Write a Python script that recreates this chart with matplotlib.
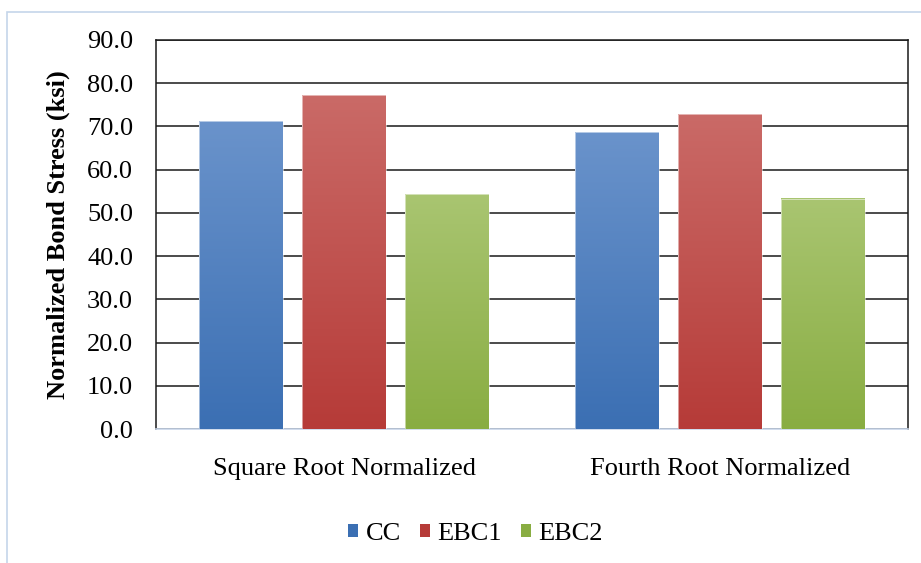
import numpy as np
import matplotlib
matplotlib.use("Agg")
import matplotlib.pyplot as plt
from matplotlib.colors import LinearSegmentedColormap
from matplotlib.patches import Rectangle, Patch

categories = ["Square Root Normalized", "Fourth Root Normalized"]
series_names = ["CC", "EBC1", "EBC2"]
cc = [71.2, 68.7]
ebc1 = [77.2, 72.8]
ebc2 = [54.3, 53.3]
y_ticks = [0, 10, 20, 30, 40, 50, 60, 70, 80, 90]

# (top colour, bottom colour) for the vertical gradient of each series
gradients = [("#6a93cb", "#3b6fb3"), ("#ca6a67", "#b63b38"), ("#a9c571", "#89ad42")]

plt.rcParams["font.family"] = ["Liberation Serif", "DejaVu Serif"]

fig = plt.figure(figsize=(9.21, 5.63), dpi=100)
ax = fig.add_axes([0.1694, 0.238, 0.8165, 0.691])

# light frame around the whole chart
fig.patches.append(Rectangle((7 / 921, -0.05), 1.2, 1 - 12 / 563 + 0.05,
                             transform=fig.transFigure, fill=False,
                             edgecolor="#c5d5ea", linewidth=1.2, zorder=0))

x = np.arange(len(categories))
width = 0.223
offsets = [-0.275, 0.0, 0.275]
grad = np.linspace(0, 1, 256).reshape(-1, 1)

for values, off, (top, bottom), name in zip([cc, ebc1, ebc2], offsets, gradients, series_names):
    bars = ax.bar(x + off, values, width, color="none", edgecolor="none", zorder=3, label=name)
    cmap = LinearSegmentedColormap.from_list(name, [top, bottom])
    for b in bars:
        x0, w, h = b.get_x(), b.get_width(), b.get_height()
        ax.imshow(grad, cmap=cmap, aspect="auto", extent=[x0, x0 + w, 0, h],
                  origin="upper", zorder=3, interpolation="bilinear")
        ax.add_patch(Rectangle((x0, 0), w, h, fill=False, edgecolor="white",
                               linewidth=0.6, alpha=0.6, zorder=4))

ax.set_xlim(-0.5, 1.5)
ax.set_ylim(0, 90)
ax.set_yticks(y_ticks)
ax.set_yticklabels([f"{v:.1f}" for v in y_ticks], fontsize=19)
ax.set_xticks(x)
ax.set_xticklabels(categories, fontsize=19)
ax.tick_params(axis="both", length=0)
ax.tick_params(axis="x", pad=21)
ax.tick_params(axis="y", pad=16.5)

ax.yaxis.grid(True, color="#1a1a1a", linewidth=1.1, zorder=1)
ax.set_axisbelow(True)
for s in ["left", "right", "top"]:
    ax.spines[s].set_color("#1a1a1a")
    ax.spines[s].set_linewidth(1.1)
ax.spines["bottom"].set_color("#c8d6ea")
ax.spines["bottom"].set_linewidth(1.2)

ax.set_ylabel("Normalized Bond Stress (ksi)", fontsize=19, fontweight="bold", labelpad=12)

handles = [Patch(facecolor=c[1], edgecolor="none") for c in gradients]
fig.legend(handles, series_names, loc="center", bbox_to_anchor=(0.516, 0.052), ncol=3,
           frameon=False, fontsize=19, handlelength=0.38, handleheight=0.38,
           handletextpad=0.28, columnspacing=0.72)

fig.savefig("out.png", dpi=100)
